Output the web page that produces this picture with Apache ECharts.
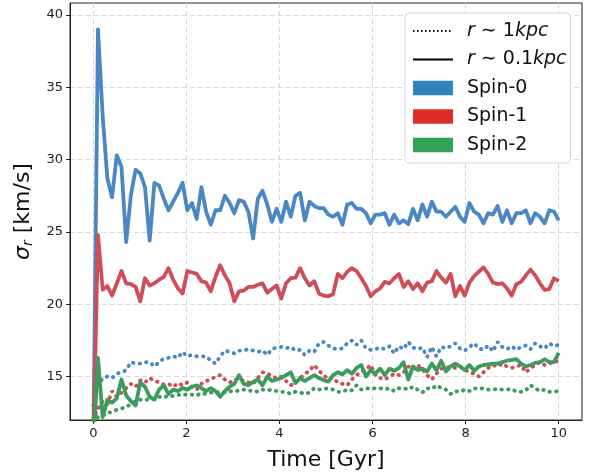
<!DOCTYPE html>
<html><head><meta charset="utf-8">
<script src="https://cdn.jsdelivr.net/npm/echarts@6/dist/echarts.min.js"></script>
<style>html,body{margin:0;padding:0;background:#fff}#c{width:596px;height:474px}</style>
</head><body><div id="c"></div>
<script>
// Time grid [Gyr]
const times = [0,0.101,0.202,0.303,0.404,0.505,0.606,0.707,0.808,0.909,1.010,1.111,1.212,1.313,1.414,1.515,1.616,1.717,1.818,1.919,2.020,2.121,2.222,2.323,2.424,2.525,2.626,2.727,2.828,2.929,3.030,3.131,3.232,3.333,3.434,3.535,3.636,3.737,3.838,3.939,4.040,4.141,4.242,4.343,4.444,4.545,4.646,4.747,4.848,4.949,5.051,5.152,5.253,5.354,5.455,5.556,5.657,5.758,5.859,5.960,6.061,6.162,6.263,6.364,6.465,6.566,6.667,6.768,6.869,6.970,7.071,7.172,7.273,7.374,7.475,7.576,7.677,7.778,7.879,7.980,8.081,8.182,8.283,8.384,8.485,8.586,8.687,8.788,8.889,8.990,9.091,9.192,9.293,9.394,9.495,9.596,9.697,9.798,9.899,10.0];

// r ~ 0.1 kpc (solid)
const spin0Inner = [10,39.0,33.0,28.7,27.4,30.3,29.5,24.3,27.55,29.3,29.05,28.1,24.4,28.4,28.2,27.3,26.5,27.1,27.7,28.4,26.5,27.0,25.9,28.1,26.4,25.5,26.5,26.5,27.5,27.0,26.3,27.2,27.1,26.4,24.55,27.3,27.85,26.9,25.7,26.6,25.7,27.1,26.05,27.5,27.7,25.8,27.1,26.8,26.65,26.65,26.2,26.05,26.3,25.5,26.9,27.0,26.6,26.6,26.3,25.6,26.2,26.2,26.3,25.5,26.2,25.6,25.8,25.55,26.6,25.8,26.9,26.05,27.1,26.4,26.4,26.05,26.4,26.74,26.05,25.7,27.0,26.4,26.2,25.6,26.3,26.2,26.8,25.7,26.5,25.6,26.3,26.3,26.5,25.6,26.3,26.05,25.6,26.5,26.4,25.8];
const spin1Inner = [10,24.8,21.0,21.26,20.6,21.45,22.3,21.45,21.4,21.2,20.2,21.8,21.3,21.45,21.7,21.9,22.5,21.7,21.1,20.75,22.3,22.2,22.1,21.6,21.5,20.9,21.9,22.7,22.0,21.45,20.2,20.9,20.95,21.2,21.2,21.35,21.45,20.8,21.05,21.3,20.4,21.45,21.8,21.85,22.5,21.8,21.3,21.6,20.75,20.6,20.55,20.7,22.1,21.8,22.25,22.5,22.3,21.8,21.26,20.55,20.9,21.1,21.55,21.45,21.8,22.1,21.2,21.6,21.05,21.45,20.9,21.5,21.6,22.3,21.85,21.5,22.1,20.55,21.26,20.6,21.5,21.95,22.25,22.55,22.1,21.5,21.4,21.45,21.1,20.6,21.4,21.55,22.0,22.4,22.0,21.45,21.0,21.05,21.8,21.6];
const spin2Inner = [10,16.3,12.2,13.4,13.2,13.5,14.8,13.7,13.3,13.0,14.6,14.3,13.6,13.4,14.1,14.4,13.8,14.1,14.0,14.2,14.1,14.3,14.4,14.2,14.0,14.2,14.0,13.6,14.0,14.3,14.5,15.1,14.5,14.4,14.65,14.8,14.4,15.0,14.7,14.8,14.9,15.1,15.3,14.55,14.9,14.7,14.9,15.1,14.9,14.75,14.65,15.1,15.3,15.15,15.45,15.2,15.6,15.8,15.0,15.45,15.2,15.55,15.1,15.55,15.4,15.6,16.0,14.8,15.7,15.45,15.55,15.35,15.9,15.45,16.1,15.35,15.7,15.9,15.7,15.45,15.8,15.4,15.7,15.8,15.85,15.9,15.9,16.0,16.1,16.15,16.2,15.9,15.7,15.8,15.95,16.0,16.2,16.0,16.0,16.65];

// r ~ 1 kpc (dotted)
const spin0Outer = [13.0,14.3,14.9,15.0,14.9,15.2,15.3,15.45,16.0,15.9,15.9,16.0,16.0,15.7,16.0,16.25,16.3,16.4,16.3,16.7,16.4,16.5,16.4,16.4,16.4,16.1,15.9,16.4,16.8,16.7,16.6,16.8,16.8,16.9,16.8,16.7,16.8,16.5,16.9,17.0,17.05,16.95,17.05,16.8,16.85,16.5,16.8,16.7,17.3,17.4,17.15,16.95,16.9,16.95,17.3,17.5,17.2,17.5,16.95,16.85,16.9,17.0,16.9,17.1,16.6,17.1,16.9,17.4,17.0,16.9,17.0,16.35,17.05,16.4,17.05,16.95,17.1,17.3,16.95,16.8,17.05,17.3,16.95,16.85,17.15,16.75,17.4,17.05,16.9,17.1,16.85,17.05,17.15,16.9,17.3,17.1,16.95,17.3,17.1,17.2];
const spin1Outer = [12.0,12.8,13.3,13.1,14.0,13.6,13.9,14.2,14.5,14.3,14.75,14.6,14.9,14.7,14.6,14.45,14.5,14.3,14.55,14.4,14.6,14.3,14.1,14.5,14.7,14.8,15.0,15.1,14.8,14.6,14.75,14.9,14.7,14.6,14.5,14.9,15.3,15.25,15.0,14.9,15.0,14.7,14.4,14.6,14.9,15.2,15.4,15.8,15.4,15.1,14.8,14.9,14.6,14.5,14.4,14.8,15.1,15.33,15.5,15.8,15.1,14.9,14.8,15.0,15.2,15.1,15.3,15.7,15.5,15.8,15.5,15.1,14.8,15.2,15.55,15.6,15.7,15.6,15.7,15.5,15.3,15.2,15.0,15.3,15.6,15.8,15.7,15.9,15.7,15.6,15.7,15.8,15.3,15.6,15.8,16.0,15.8,15.9,16.1,16.0];
const spin2Outer = [11.8,12.2,12.3,12.5,12.55,12.7,12.8,12.9,13.1,13.3,13.4,13.35,13.5,13.45,13.6,13.55,13.7,13.65,13.75,13.7,13.8,13.75,13.7,13.85,13.8,13.9,13.85,13.95,13.9,14.0,13.95,14.05,14.1,14.0,14.05,13.95,14.1,14.05,14.1,14.0,13.95,13.95,13.8,13.95,13.9,13.8,13.9,14.2,14.1,14.15,14.2,14.1,13.95,13.95,14.1,14.05,14.4,14.1,14.2,14.15,14.2,14.2,14.1,14.2,14.0,14.2,14.2,14.1,14.3,14.1,13.9,14.2,14.15,14.4,14.2,14.1,13.8,14.0,13.95,14.1,14.0,14.2,14.15,14.2,14.1,14.1,14.15,14.1,14.1,14.15,13.95,13.95,14.05,14.4,14.2,14.0,14.1,13.95,14.0,13.95];

const xTicks = [0,2,4,6,8,10];
const yTicks = [15,20,25,30,35,40];
const spinNames = ['Spin-0','Spin-1','Spin-2'];
const radiusNames = ['r~1kpc','r~0.1kpc'];

const lineColors = ['#4b87c2','#cf4e56','#3e9a5d'];
const patchColors = ['#3182bd','#de2d26','#31a354'];
const FONT = 'DejaVu Sans';

const zip = arr => times.map((t,i)=>[t, arr[i]]);
const inner = [spin0Inner, spin1Inner, spin2Inner];
const outer = [spin0Outer, spin1Outer, spin2Outer];

const series = [];
// legend-only dummy series
series.push({name: radiusNames[0], type:'line', data:[], symbol:'none', itemStyle:{color:'rgba(0,0,0,0)'}, lineStyle:{color:'#000', width:1.5, type:[1.5,2.5]}});
series.push({name: radiusNames[1], type:'line', data:[], symbol:'none', itemStyle:{color:'rgba(0,0,0,0)'}, lineStyle:{color:'#000', width:1.8}});
for (let k=0;k<3;k++){
  series.push({name: spinNames[k]+' outer', type:'line', data: zip(outer[k]), symbol:'none', silent:true,
    lineStyle:{color: lineColors[k], width:3.8, type:[0.5,6.2], cap:'round'}, itemStyle:{color: lineColors[k]}, z: 2+2*k});
  series.push({name: spinNames[k], type:'line', data: zip(inner[k]), symbol:'none', silent:true,
    lineStyle:{color: lineColors[k], width:3.8, join:'round'}, itemStyle:{color: patchColors[k]}, z: 3+2*k});
}

const chart = echarts.init(document.getElementById('c'), null, {renderer:'canvas'});
chart.setOption({
  animation:false,
  backgroundColor:'#fff',
  grid:{left:70, right:14, top:3, bottom:54, show:true, borderColor:'#222', borderWidth:1, backgroundColor:'transparent', outerBoundsMode:'none', containLabel:false},
  xAxis:{type:'value', min:-0.5, max:10.5,
    name:'Time [Gyr]', nameLocation:'middle', nameGap:29,
    nameTextStyle:{fontFamily:FONT, fontSize:22, color:'#111'},
    axisLine:{show:true, onZero:false, lineStyle:{color:'#222', width:1}},
    axisTick:{show:true, length:4, customValues:xTicks, lineStyle:{color:'#222'}},
    axisLabel:{customValues:xTicks, margin:7, fontFamily:FONT, fontSize:13, color:'#222'},
    splitLine:{show:true, lineStyle:{color:'#d9d9d9', type:[5,3], width:1}}
  },
  yAxis:{type:'value', min:12, max:40.83,
    name:'{it|σ}{sub|r} [km/s]', nameLocation:'middle', nameGap:33, nameRotate:90,
    nameTextStyle:{fontFamily:FONT, fontSize:22, color:'#111', lineHeight:24,
      rich:{it:{fontFamily:FONT, fontStyle:'italic', fontSize:22, lineHeight:24, color:'#111'},
            sub:{fontFamily:FONT, fontStyle:'italic', fontSize:14, lineHeight:9, verticalAlign:'bottom', color:'#111'}}},
    axisLine:{show:true, onZero:false, lineStyle:{color:'#222', width:1}},
    axisTick:{show:true, length:4, customValues:yTicks, lineStyle:{color:'#222'}},
    axisLabel:{customValues:yTicks, margin:7, fontFamily:FONT, fontSize:13, color:'#222'},
    splitLine:{show:true, lineStyle:{color:'#d9d9d9', type:[5,3], width:1}}
  },
  legend:{
    orient:'vertical', left:405, top:13,
    padding:[8,4,8,7], itemGap:8.5, itemWidth:40, itemHeight:14.5,
    backgroundColor:'rgba(255,255,255,0.85)', borderColor:'#d6d6d6', borderWidth:1, borderRadius:4,
    selectedMode:false,
    textStyle:{fontFamily:FONT, fontSize:19, color:'#111', lineHeight:20, padding:[0,0,0,9],
      rich:{i:{fontFamily:FONT, fontStyle:'italic', fontSize:19, color:'#111', lineHeight:20},
            n:{fontFamily:FONT, fontSize:19, color:'#111', lineHeight:20}}},
    formatter: function(name){
      if (name === radiusNames[0]) return '{i|r}{n| ∼ 1}{i|kpc}';
      if (name === radiusNames[1]) return '{i|r}{n| ∼ 0.1}{i|kpc}';
      return name;
    },
    data:[
      {name:radiusNames[0], itemStyle:{color:'rgba(0,0,0,0)', borderWidth:0, opacity:0}},
      {name:radiusNames[1], itemStyle:{color:'rgba(0,0,0,0)', borderWidth:0, opacity:0}},
      {name:spinNames[0], icon:'rect', itemStyle:{color:patchColors[0]}},
      {name:spinNames[1], icon:'rect', itemStyle:{color:patchColors[1]}},
      {name:spinNames[2], icon:'rect', itemStyle:{color:patchColors[2]}}
    ]
  },
  series: series
});
</script>
</body></html>
